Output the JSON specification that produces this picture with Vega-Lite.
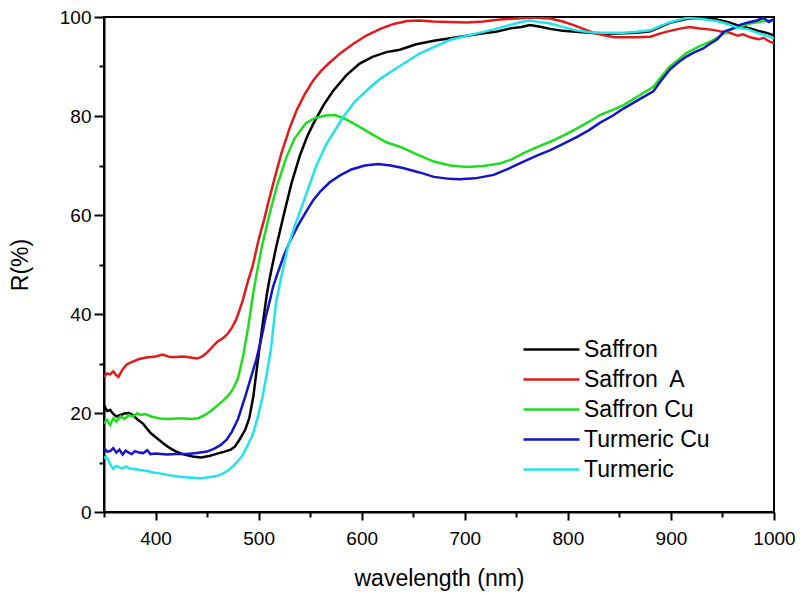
{
"$schema": "https://vega.github.io/schema/vega-lite/v6.json",
"width": 670, "height": 495,
"autosize": {"type": "none"},
"padding": {"left": 104, "top": 17, "right": 26, "bottom": 84},
"background": "white",
"config": {"view": {"stroke": "black", "strokeWidth": 2}, "font": "Liberation Sans"},
"data": {"values": [
{"series":"Saffron","wl":350,"R":21.6},{"series":"Saffron","wl":353,"R":20.4},{"series":"Saffron","wl":356,"R":20.6},{"series":"Saffron","wl":359,"R":19.8},{"series":"Saffron","wl":362,"R":19.3},{"series":"Saffron","wl":366,"R":19.6},{"series":"Saffron","wl":370,"R":19.9},{"series":"Saffron","wl":374,"R":20.0},{"series":"Saffron","wl":378,"R":19.6},{"series":"Saffron","wl":382,"R":18.8},{"series":"Saffron","wl":388,"R":17.8},{"series":"Saffron","wl":395,"R":16.0},{"series":"Saffron","wl":402,"R":14.8},{"series":"Saffron","wl":408,"R":13.8},{"series":"Saffron","wl":414,"R":12.9},{"series":"Saffron","wl":420,"R":12.2},{"series":"Saffron","wl":428,"R":11.6},{"series":"Saffron","wl":436,"R":11.2},{"series":"Saffron","wl":444,"R":11.0},{"series":"Saffron","wl":452,"R":11.3},{"series":"Saffron","wl":460,"R":11.8},{"series":"Saffron","wl":467,"R":12.2},{"series":"Saffron","wl":473,"R":12.6},{"series":"Saffron","wl":477,"R":13.2},{"series":"Saffron","wl":482,"R":14.8},{"series":"Saffron","wl":487,"R":16.6},{"series":"Saffron","wl":491,"R":19.0},{"series":"Saffron","wl":495,"R":23.5},{"series":"Saffron","wl":498,"R":28.5},{"series":"Saffron","wl":501,"R":33.4},{"series":"Saffron","wl":504,"R":38.0},{"series":"Saffron","wl":508,"R":44.0},{"series":"Saffron","wl":511,"R":47.5},{"series":"Saffron","wl":517,"R":53.5},{"series":"Saffron","wl":524,"R":59.7},{"series":"Saffron","wl":532,"R":66.5},{"series":"Saffron","wl":540,"R":72.0},{"series":"Saffron","wl":547,"R":75.8},{"series":"Saffron","wl":553,"R":78.4},{"series":"Saffron","wl":563,"R":82.2},{"series":"Saffron","wl":572,"R":85.0},{"series":"Saffron","wl":585,"R":88.2},{"series":"Saffron","wl":598,"R":90.6},{"series":"Saffron","wl":611,"R":92.0},{"series":"Saffron","wl":624,"R":92.9},{"series":"Saffron","wl":637,"R":93.4},{"series":"Saffron","wl":653,"R":94.5},{"series":"Saffron","wl":670,"R":95.2},{"series":"Saffron","wl":686,"R":95.7},{"series":"Saffron","wl":702,"R":96.2},{"series":"Saffron","wl":718,"R":96.7},{"series":"Saffron","wl":730,"R":97.0},{"series":"Saffron","wl":744,"R":97.7},{"series":"Saffron","wl":755,"R":98.0},{"series":"Saffron","wl":763,"R":98.4},{"series":"Saffron","wl":772,"R":98.1},{"series":"Saffron","wl":783,"R":97.6},{"series":"Saffron","wl":795,"R":97.2},{"series":"Saffron","wl":808,"R":97.0},{"series":"Saffron","wl":821,"R":96.8},{"series":"Saffron","wl":835,"R":96.6},{"series":"Saffron","wl":854,"R":96.7},{"series":"Saffron","wl":867,"R":96.8},{"series":"Saffron","wl":880,"R":97.1},{"series":"Saffron","wl":890,"R":98.0},{"series":"Saffron","wl":900,"R":98.9},{"series":"Saffron","wl":915,"R":99.6},{"series":"Saffron","wl":930,"R":99.8},{"series":"Saffron","wl":944,"R":99.5},{"series":"Saffron","wl":955,"R":99.0},{"series":"Saffron","wl":965,"R":98.3},{"series":"Saffron","wl":975,"R":97.8},{"series":"Saffron","wl":985,"R":97.2},{"series":"Saffron","wl":993,"R":96.8},{"series":"Saffron","wl":1000,"R":96.3},
{"series":"Saffron  A","wl":350,"R":27.3},{"series":"Saffron  A","wl":353,"R":28.0},{"series":"Saffron  A","wl":356,"R":27.8},{"series":"Saffron  A","wl":359,"R":28.4},{"series":"Saffron  A","wl":362,"R":27.6},{"series":"Saffron  A","wl":364,"R":27.3},{"series":"Saffron  A","wl":368,"R":28.8},{"series":"Saffron  A","wl":372,"R":29.8},{"series":"Saffron  A","wl":378,"R":30.4},{"series":"Saffron  A","wl":384,"R":30.9},{"series":"Saffron  A","wl":391,"R":31.2},{"series":"Saffron  A","wl":400,"R":31.4},{"series":"Saffron  A","wl":407,"R":31.8},{"series":"Saffron  A","wl":414,"R":31.3},{"series":"Saffron  A","wl":420,"R":31.3},{"series":"Saffron  A","wl":427,"R":31.4},{"series":"Saffron  A","wl":434,"R":31.2},{"series":"Saffron  A","wl":440,"R":31.0},{"series":"Saffron  A","wl":445,"R":31.4},{"series":"Saffron  A","wl":450,"R":32.2},{"series":"Saffron  A","wl":455,"R":33.3},{"series":"Saffron  A","wl":460,"R":34.4},{"series":"Saffron  A","wl":466,"R":35.2},{"series":"Saffron  A","wl":470,"R":36.0},{"series":"Saffron  A","wl":474,"R":37.2},{"series":"Saffron  A","wl":478,"R":38.8},{"series":"Saffron  A","wl":481,"R":40.5},{"series":"Saffron  A","wl":485,"R":43.0},{"series":"Saffron  A","wl":490,"R":46.9},{"series":"Saffron  A","wl":494,"R":49.5},{"series":"Saffron  A","wl":500,"R":55.0},{"series":"Saffron  A","wl":505,"R":58.8},{"series":"Saffron  A","wl":510,"R":63.0},{"series":"Saffron  A","wl":516,"R":67.8},{"series":"Saffron  A","wl":522,"R":72.4},{"series":"Saffron  A","wl":530,"R":77.5},{"series":"Saffron  A","wl":537,"R":81.2},{"series":"Saffron  A","wl":545,"R":84.5},{"series":"Saffron  A","wl":553,"R":87.2},{"series":"Saffron  A","wl":561,"R":89.2},{"series":"Saffron  A","wl":569,"R":90.8},{"series":"Saffron  A","wl":580,"R":92.8},{"series":"Saffron  A","wl":592,"R":94.6},{"series":"Saffron  A","wl":605,"R":96.3},{"series":"Saffron  A","wl":618,"R":97.6},{"series":"Saffron  A","wl":631,"R":98.6},{"series":"Saffron  A","wl":644,"R":99.2},{"series":"Saffron  A","wl":656,"R":99.3},{"series":"Saffron  A","wl":669,"R":99.1},{"series":"Saffron  A","wl":686,"R":99.0},{"series":"Saffron  A","wl":702,"R":98.9},{"series":"Saffron  A","wl":718,"R":99.1},{"series":"Saffron  A","wl":734,"R":99.5},{"series":"Saffron  A","wl":750,"R":99.7},{"series":"Saffron  A","wl":766,"R":99.9},{"series":"Saffron  A","wl":783,"R":99.7},{"series":"Saffron  A","wl":795,"R":99.1},{"series":"Saffron  A","wl":805,"R":98.4},{"series":"Saffron  A","wl":815,"R":97.6},{"series":"Saffron  A","wl":825,"R":96.8},{"series":"Saffron  A","wl":835,"R":96.3},{"series":"Saffron  A","wl":845,"R":95.9},{"series":"Saffron  A","wl":854,"R":95.9},{"series":"Saffron  A","wl":867,"R":95.9},{"series":"Saffron  A","wl":880,"R":96.0},{"series":"Saffron  A","wl":890,"R":96.7},{"series":"Saffron  A","wl":899,"R":97.2},{"series":"Saffron  A","wl":910,"R":97.7},{"series":"Saffron  A","wl":918,"R":98.0},{"series":"Saffron  A","wl":928,"R":97.7},{"series":"Saffron  A","wl":941,"R":97.4},{"series":"Saffron  A","wl":950,"R":97.0},{"series":"Saffron  A","wl":957,"R":96.8},{"series":"Saffron  A","wl":965,"R":96.2},{"series":"Saffron  A","wl":970,"R":96.5},{"series":"Saffron  A","wl":977,"R":95.9},{"series":"Saffron  A","wl":985,"R":95.5},{"series":"Saffron  A","wl":990,"R":95.8},{"series":"Saffron  A","wl":995,"R":95.1},{"series":"Saffron  A","wl":1000,"R":94.7},
{"series":"Saffron Cu","wl":350,"R":17.9},{"series":"Saffron Cu","wl":353,"R":18.6},{"series":"Saffron Cu","wl":356,"R":17.6},{"series":"Saffron Cu","wl":359,"R":18.9},{"series":"Saffron Cu","wl":362,"R":18.3},{"series":"Saffron Cu","wl":366,"R":19.3},{"series":"Saffron Cu","wl":370,"R":18.8},{"series":"Saffron Cu","wl":374,"R":19.6},{"series":"Saffron Cu","wl":378,"R":19.3},{"series":"Saffron Cu","wl":382,"R":19.9},{"series":"Saffron Cu","wl":386,"R":19.6},{"series":"Saffron Cu","wl":390,"R":19.8},{"series":"Saffron Cu","wl":396,"R":19.3},{"series":"Saffron Cu","wl":404,"R":18.9},{"series":"Saffron Cu","wl":412,"R":18.8},{"series":"Saffron Cu","wl":420,"R":18.9},{"series":"Saffron Cu","wl":428,"R":18.9},{"series":"Saffron Cu","wl":436,"R":18.8},{"series":"Saffron Cu","wl":442,"R":19.0},{"series":"Saffron Cu","wl":448,"R":19.6},{"series":"Saffron Cu","wl":453,"R":20.3},{"series":"Saffron Cu","wl":460,"R":21.5},{"series":"Saffron Cu","wl":466,"R":22.6},{"series":"Saffron Cu","wl":471,"R":23.6},{"series":"Saffron Cu","wl":475,"R":24.8},{"series":"Saffron Cu","wl":480,"R":27.0},{"series":"Saffron Cu","wl":485,"R":31.5},{"series":"Saffron Cu","wl":490,"R":37.5},{"series":"Saffron Cu","wl":495,"R":44.5},{"series":"Saffron Cu","wl":498,"R":48.0},{"series":"Saffron Cu","wl":503,"R":53.5},{"series":"Saffron Cu","wl":511,"R":60.5},{"series":"Saffron Cu","wl":518,"R":66.0},{"series":"Saffron Cu","wl":527,"R":71.7},{"series":"Saffron Cu","wl":535,"R":75.5},{"series":"Saffron Cu","wl":546,"R":78.6},{"series":"Saffron Cu","wl":555,"R":79.6},{"series":"Saffron Cu","wl":565,"R":80.1},{"series":"Saffron Cu","wl":574,"R":80.2},{"series":"Saffron Cu","wl":585,"R":79.3},{"series":"Saffron Cu","wl":598,"R":77.8},{"series":"Saffron Cu","wl":611,"R":76.2},{"series":"Saffron Cu","wl":624,"R":74.7},{"series":"Saffron Cu","wl":637,"R":73.8},{"series":"Saffron Cu","wl":653,"R":72.3},{"series":"Saffron Cu","wl":670,"R":70.8},{"series":"Saffron Cu","wl":686,"R":70.0},{"series":"Saffron Cu","wl":702,"R":69.7},{"series":"Saffron Cu","wl":718,"R":69.9},{"series":"Saffron Cu","wl":734,"R":70.4},{"series":"Saffron Cu","wl":745,"R":71.2},{"series":"Saffron Cu","wl":757,"R":72.5},{"series":"Saffron Cu","wl":770,"R":73.7},{"series":"Saffron Cu","wl":783,"R":74.8},{"series":"Saffron Cu","wl":796,"R":76.1},{"series":"Saffron Cu","wl":809,"R":77.5},{"series":"Saffron Cu","wl":821,"R":78.9},{"series":"Saffron Cu","wl":831,"R":80.2},{"series":"Saffron Cu","wl":843,"R":81.2},{"series":"Saffron Cu","wl":854,"R":82.2},{"series":"Saffron Cu","wl":868,"R":84.0},{"series":"Saffron Cu","wl":883,"R":85.9},{"series":"Saffron Cu","wl":891,"R":88.0},{"series":"Saffron Cu","wl":899,"R":90.0},{"series":"Saffron Cu","wl":907,"R":91.3},{"series":"Saffron Cu","wl":915,"R":92.7},{"series":"Saffron Cu","wl":927,"R":94.0},{"series":"Saffron Cu","wl":938,"R":95.0},{"series":"Saffron Cu","wl":948,"R":96.2},{"series":"Saffron Cu","wl":957,"R":97.4},{"series":"Saffron Cu","wl":967,"R":98.0},{"series":"Saffron Cu","wl":977,"R":98.7},{"series":"Saffron Cu","wl":988,"R":99.1},{"series":"Saffron Cu","wl":1000,"R":99.4},
{"series":"Turmeric Cu","wl":350,"R":12.9},{"series":"Turmeric Cu","wl":353,"R":12.2},{"series":"Turmeric Cu","wl":356,"R":12.3},{"series":"Turmeric Cu","wl":359,"R":12.9},{"series":"Turmeric Cu","wl":362,"R":12.0},{"series":"Turmeric Cu","wl":365,"R":12.6},{"series":"Turmeric Cu","wl":368,"R":11.6},{"series":"Turmeric Cu","wl":371,"R":12.4},{"series":"Turmeric Cu","wl":374,"R":12.0},{"series":"Turmeric Cu","wl":377,"R":11.7},{"series":"Turmeric Cu","wl":380,"R":12.3},{"series":"Turmeric Cu","wl":384,"R":12.0},{"series":"Turmeric Cu","wl":388,"R":11.9},{"series":"Turmeric Cu","wl":392,"R":12.5},{"series":"Turmeric Cu","wl":395,"R":11.7},{"series":"Turmeric Cu","wl":400,"R":11.8},{"series":"Turmeric Cu","wl":411,"R":11.6},{"series":"Turmeric Cu","wl":420,"R":11.7},{"series":"Turmeric Cu","wl":430,"R":11.7},{"series":"Turmeric Cu","wl":440,"R":11.9},{"series":"Turmeric Cu","wl":450,"R":12.2},{"series":"Turmeric Cu","wl":457,"R":12.8},{"series":"Turmeric Cu","wl":463,"R":13.5},{"series":"Turmeric Cu","wl":469,"R":14.6},{"series":"Turmeric Cu","wl":474,"R":16.2},{"series":"Turmeric Cu","wl":480,"R":18.8},{"series":"Turmeric Cu","wl":487,"R":23.3},{"series":"Turmeric Cu","wl":492,"R":26.8},{"series":"Turmeric Cu","wl":498,"R":31.0},{"series":"Turmeric Cu","wl":503,"R":35.4},{"series":"Turmeric Cu","wl":507,"R":39.5},{"series":"Turmeric Cu","wl":511,"R":42.8},{"series":"Turmeric Cu","wl":514,"R":45.5},{"series":"Turmeric Cu","wl":518,"R":48.0},{"series":"Turmeric Cu","wl":524,"R":51.5},{"series":"Turmeric Cu","wl":530,"R":54.5},{"series":"Turmeric Cu","wl":538,"R":57.8},{"series":"Turmeric Cu","wl":547,"R":61.0},{"series":"Turmeric Cu","wl":553,"R":63.0},{"series":"Turmeric Cu","wl":560,"R":64.8},{"series":"Turmeric Cu","wl":569,"R":66.6},{"series":"Turmeric Cu","wl":579,"R":68.0},{"series":"Turmeric Cu","wl":590,"R":69.2},{"series":"Turmeric Cu","wl":603,"R":70.0},{"series":"Turmeric Cu","wl":616,"R":70.3},{"series":"Turmeric Cu","wl":628,"R":70.0},{"series":"Turmeric Cu","wl":640,"R":69.5},{"series":"Turmeric Cu","wl":656,"R":68.6},{"series":"Turmeric Cu","wl":670,"R":67.7},{"series":"Turmeric Cu","wl":685,"R":67.3},{"series":"Turmeric Cu","wl":695,"R":67.2},{"series":"Turmeric Cu","wl":710,"R":67.4},{"series":"Turmeric Cu","wl":728,"R":68.1},{"series":"Turmeric Cu","wl":742,"R":69.3},{"series":"Turmeric Cu","wl":757,"R":70.8},{"series":"Turmeric Cu","wl":770,"R":72.0},{"series":"Turmeric Cu","wl":783,"R":73.1},{"series":"Turmeric Cu","wl":796,"R":74.4},{"series":"Turmeric Cu","wl":809,"R":75.8},{"series":"Turmeric Cu","wl":821,"R":77.2},{"series":"Turmeric Cu","wl":831,"R":78.6},{"series":"Turmeric Cu","wl":843,"R":80.0},{"series":"Turmeric Cu","wl":854,"R":81.5},{"series":"Turmeric Cu","wl":868,"R":83.2},{"series":"Turmeric Cu","wl":883,"R":85.0},{"series":"Turmeric Cu","wl":891,"R":87.3},{"series":"Turmeric Cu","wl":899,"R":89.4},{"series":"Turmeric Cu","wl":907,"R":90.8},{"series":"Turmeric Cu","wl":915,"R":92.0},{"series":"Turmeric Cu","wl":923,"R":92.9},{"series":"Turmeric Cu","wl":931,"R":93.6},{"series":"Turmeric Cu","wl":938,"R":94.6},{"series":"Turmeric Cu","wl":945,"R":95.5},{"series":"Turmeric Cu","wl":951,"R":97.0},{"series":"Turmeric Cu","wl":959,"R":97.6},{"series":"Turmeric Cu","wl":967,"R":98.4},{"series":"Turmeric Cu","wl":975,"R":98.9},{"series":"Turmeric Cu","wl":983,"R":99.3},{"series":"Turmeric Cu","wl":990,"R":99.8},{"series":"Turmeric Cu","wl":995,"R":99.0},{"series":"Turmeric Cu","wl":1000,"R":99.6},
{"series":"Turmeric","wl":350,"R":10.8},{"series":"Turmeric","wl":352,"R":11.2},{"series":"Turmeric","wl":354,"R":10.6},{"series":"Turmeric","wl":357,"R":9.3},{"series":"Turmeric","wl":359,"R":8.7},{"series":"Turmeric","wl":362,"R":9.3},{"series":"Turmeric","wl":365,"R":9.0},{"series":"Turmeric","wl":368,"R":8.8},{"series":"Turmeric","wl":371,"R":9.2},{"series":"Turmeric","wl":375,"R":8.8},{"series":"Turmeric","wl":380,"R":8.7},{"series":"Turmeric","wl":385,"R":8.5},{"series":"Turmeric","wl":392,"R":8.3},{"series":"Turmeric","wl":398,"R":8.0},{"series":"Turmeric","wl":404,"R":7.8},{"series":"Turmeric","wl":412,"R":7.5},{"series":"Turmeric","wl":420,"R":7.2},{"series":"Turmeric","wl":428,"R":7.0},{"series":"Turmeric","wl":436,"R":6.9},{"series":"Turmeric","wl":443,"R":6.8},{"series":"Turmeric","wl":452,"R":7.0},{"series":"Turmeric","wl":460,"R":7.3},{"series":"Turmeric","wl":466,"R":7.8},{"series":"Turmeric","wl":471,"R":8.5},{"series":"Turmeric","wl":476,"R":9.4},{"series":"Turmeric","wl":480,"R":10.3},{"series":"Turmeric","wl":484,"R":11.3},{"series":"Turmeric","wl":489,"R":13.3},{"series":"Turmeric","wl":494,"R":15.5},{"series":"Turmeric","wl":499,"R":19.0},{"series":"Turmeric","wl":504,"R":23.5},{"series":"Turmeric","wl":508,"R":28.0},{"series":"Turmeric","wl":512,"R":33.0},{"series":"Turmeric","wl":517,"R":42.5},{"series":"Turmeric","wl":522,"R":47.5},{"series":"Turmeric","wl":528,"R":53.2},{"series":"Turmeric","wl":535,"R":57.8},{"series":"Turmeric","wl":545,"R":63.5},{"series":"Turmeric","wl":556,"R":70.0},{"series":"Turmeric","wl":566,"R":74.4},{"series":"Turmeric","wl":582,"R":79.8},{"series":"Turmeric","wl":593,"R":82.8},{"series":"Turmeric","wl":605,"R":85.2},{"series":"Turmeric","wl":618,"R":87.5},{"series":"Turmeric","wl":631,"R":89.3},{"series":"Turmeric","wl":644,"R":91.0},{"series":"Turmeric","wl":656,"R":92.6},{"series":"Turmeric","wl":670,"R":93.9},{"series":"Turmeric","wl":686,"R":95.4},{"series":"Turmeric","wl":702,"R":96.2},{"series":"Turmeric","wl":718,"R":97.0},{"series":"Turmeric","wl":730,"R":97.6},{"series":"Turmeric","wl":744,"R":98.4},{"series":"Turmeric","wl":755,"R":99.0},{"series":"Turmeric","wl":763,"R":99.3},{"series":"Turmeric","wl":772,"R":99.0},{"series":"Turmeric","wl":783,"R":98.7},{"series":"Turmeric","wl":795,"R":98.0},{"series":"Turmeric","wl":808,"R":97.3},{"series":"Turmeric","wl":821,"R":96.9},{"series":"Turmeric","wl":835,"R":96.8},{"series":"Turmeric","wl":854,"R":96.8},{"series":"Turmeric","wl":867,"R":97.0},{"series":"Turmeric","wl":880,"R":97.3},{"series":"Turmeric","wl":890,"R":98.2},{"series":"Turmeric","wl":900,"R":99.0},{"series":"Turmeric","wl":915,"R":99.8},{"series":"Turmeric","wl":930,"R":99.6},{"series":"Turmeric","wl":944,"R":99.2},{"series":"Turmeric","wl":955,"R":98.6},{"series":"Turmeric","wl":965,"R":97.8},{"series":"Turmeric","wl":975,"R":97.5},{"series":"Turmeric","wl":985,"R":96.7},{"series":"Turmeric","wl":993,"R":96.2},{"series":"Turmeric","wl":1000,"R":95.7}
]},
"mark": {"type": "line", "strokeWidth": 2.5, "clip": true},
"encoding": {
"x": {"field": "wl", "type": "quantitative",
 "scale": {"domain": [350, 1000], "nice": false, "zero": false},
 "axis": {"title": "wavelength (nm)", "values": [350,400,450,500,550,600,650,700,750,800,850,900,950,1000],
  "format": "d", "labelExpr": "datum.value % 100 === 0 ? datum.label : ''",
  "tickSize": {"condition": {"test": "datum.value % 100 === 0", "value": 8}, "value": 5},
  "grid": false, "domainColor": "black", "domainWidth": 2, "tickColor": "black", "tickWidth": 2,
  "labelFont": "Liberation Sans", "labelFontSize": 19, "labelColor": "black", "labelPadding": 9, "labelOverlap": false, "labelFlush": false,
  "titleFont": "Liberation Sans", "titleFontSize": 23, "titleFontWeight": "normal", "titleColor": "black", "titlePadding": 19}},
"y": {"field": "R", "type": "quantitative",
 "scale": {"domain": [0, 100], "nice": false},
 "axis": {"title": "R(%)", "values": [0,10,20,30,40,50,60,70,80,90,100],
  "format": "d", "labelExpr": "datum.value % 20 === 0 ? datum.label : ''",
  "tickSize": {"condition": {"test": "datum.value % 20 === 0", "value": 10}, "value": 5},
  "grid": false, "domainColor": "black", "domainWidth": 2, "tickColor": "black", "tickWidth": 2,
  "labelFont": "Liberation Sans", "labelFontSize": 19, "labelColor": "black", "labelPadding": 3, "labelOverlap": false, "labelFlush": false,
  "titleFont": "Liberation Sans", "titleFontSize": 23, "titleFontWeight": "normal", "titleColor": "black", "titlePadding": 27}},
"color": {"field": "series", "type": "nominal",
 "scale": {"domain": ["Saffron", "Saffron  A", "Saffron Cu", "Turmeric Cu", "Turmeric"], "range": ["#000000", "#e01b1b", "#1fdc1f", "#1414c8", "#22e3ea"]},
 "legend": {"orient": "none", "legendX": 430, "legendY": 315, "title": null, "symbolType": "M-1.75,0H1.75", "symbolSize": 1024, "symbolStrokeWidth": 2.5,
  "labelExpr": "datum.label === 'Saffron  A' ? 'Saffron\u00a0 A' : datum.label",
  "labelFont": "Liberation Sans", "labelFontSize": 23, "labelColor": "black", "labelOffset": 15, "rowPadding": 0, "padding": 0}}
}
}
